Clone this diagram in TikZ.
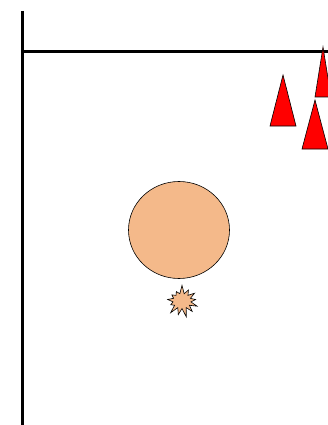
\documentclass[tikz,border=0pt]{standalone}
\usetikzlibrary{shapes.symbols,shapes.geometric}
\definecolor{peach}{RGB}{244,185,138}
\tikzset{
  axisline/.style={line width=3pt, black},
  cone/.style={draw=black, fill=red, line width=0.6pt, line join=miter},
  ball/.style={ellipse, draw=black, fill=peach, line width=0.6pt, minimum width=101pt, minimum height=97pt, inner sep=0pt},
  burst/.style={starburst, starburst points=13, starburst point height=9pt, random starburst=7, draw=black, fill=peach, line width=0.6pt, minimum width=36pt, minimum height=33pt, inner sep=0pt}
}
\begin{document}
\begin{tikzpicture}[x=1pt, y=-1pt]
    \useasboundingbox (0,0) rectangle (328,425);
    \clip (0,0) rectangle (328,425);
    % axes
    \draw[axisline] (22,11) -- (22,425);
    \draw[axisline] (22,52) -- (330,52);
    % cones
    \draw[cone] (283,75) -- (296,126) -- (270,126) -- cycle;
    \draw[cone] (323,47) -- (331,97) -- (315,97) -- cycle;
    \draw[cone] (315,100) -- (328,149) -- (302,149) -- cycle;
    % ball and burst
    \node[ball] (ball) at (179,230) {};
    \node[burst] (spark) at (182,301) {};
\end{tikzpicture}
\end{document}
